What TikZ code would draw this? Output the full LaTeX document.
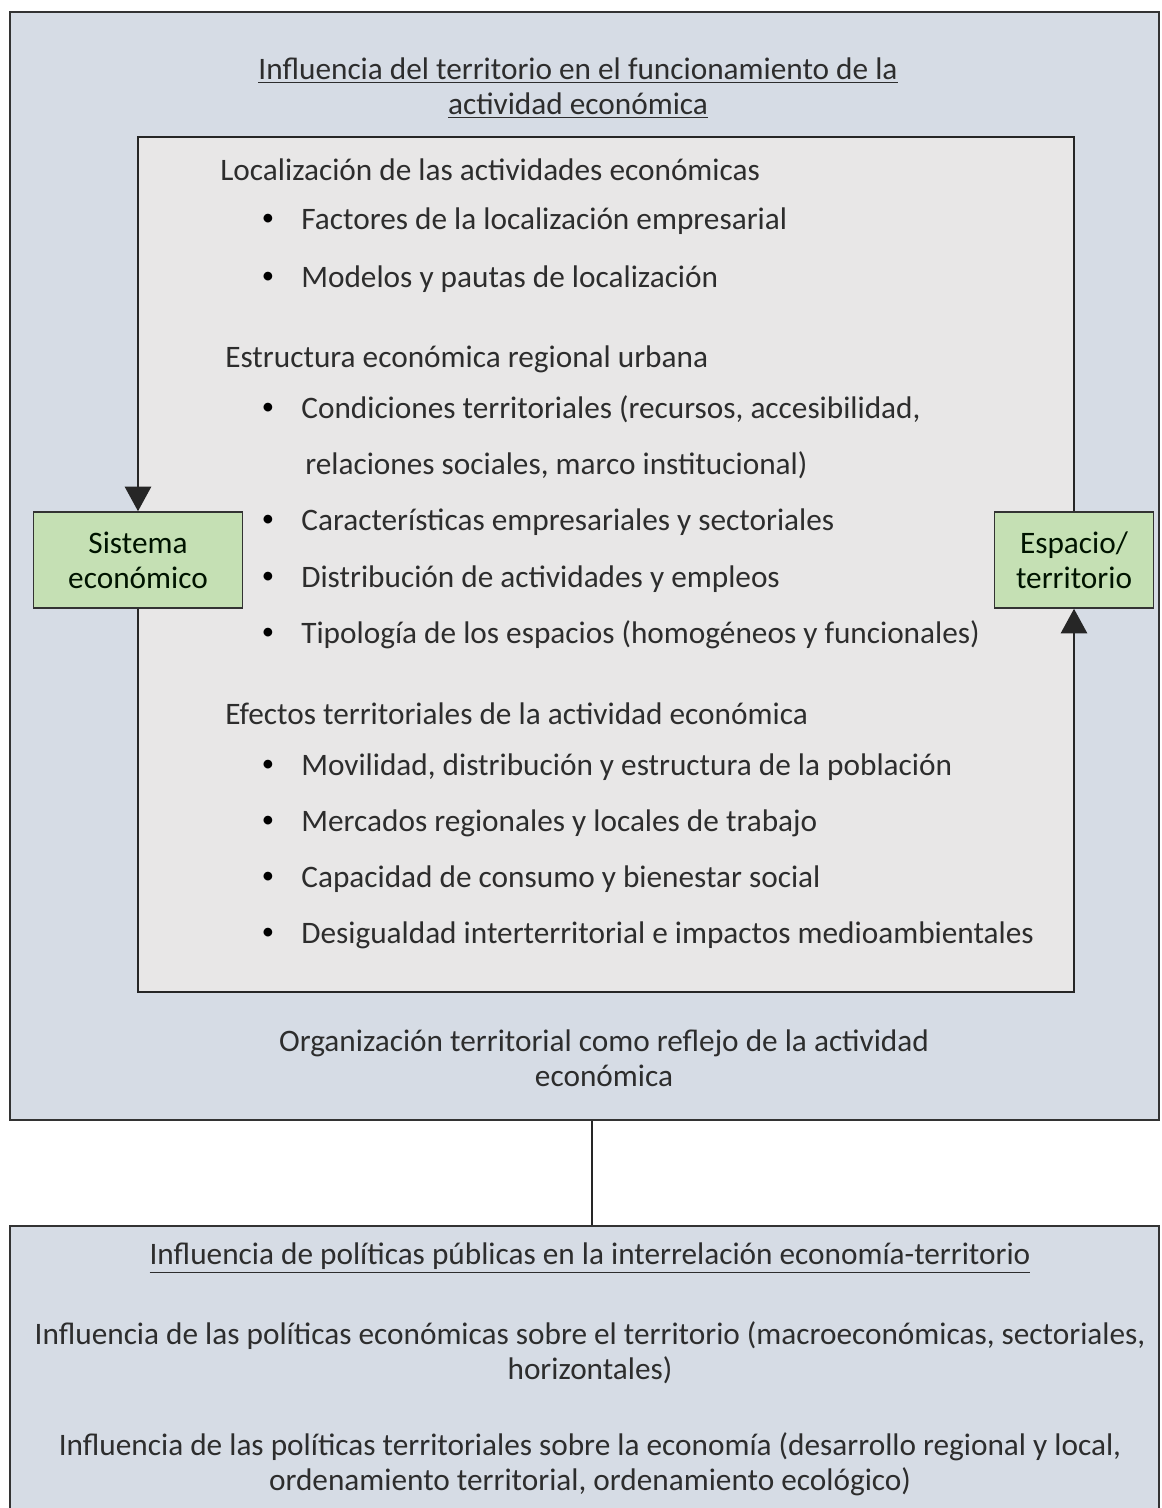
\documentclass[tikz,border=0pt]{standalone}
\usepackage{fontspec}
\setmainfont{Carlito}
\usepackage{xcolor}
\usetikzlibrary{arrows.meta, positioning}
\definecolor{outerblue}{RGB}{214, 220, 229}
\definecolor{innergray}{RGB}{232, 231, 231}
\definecolor{boxgreen}{RGB}{197, 224, 180}
\definecolor{inktext}{RGB}{45, 45, 45}

\begin{document}
\begin{tikzpicture}[x=0.02cm, y=-0.02cm, font=\fontsize{17.8}{20}\selectfont,
    txt/.style={anchor=mid west, inner sep=0pt, text=inktext, yshift=-0.1cm},
    ctr/.style={align=center, inner sep=0pt, text=inktext},
    greenbox/.style={draw=black!80, line width=0.9pt, fill=boxgreen, align=center,
      minimum width=4.18cm, minimum height=1.92cm, text=black!75!green!30!black},
    edge/.style={line width=1pt, black!85}]
  \useasboundingbox (0,0) rectangle (1161,1508);
  % Outer and lower panels
  \node[draw=black!80, line width=1pt, fill=outerblue, minimum width=22.98cm,
        minimum height=22.16cm] (outer) at (584.5,566) {};
  \node[draw=black!80, line width=1pt, fill=outerblue, minimum width=22.98cm,
        minimum height=6.08cm] (lower) at (584.5,1378) {};
  \draw[edge] ([xshift=0.15cm]outer.south) -- ([xshift=0.15cm]lower.north);
  % Inner panel (edges drawn as the two arrows)
  \node[fill=innergray, minimum width=18.72cm, minimum height=17.1cm] (inner) at (606,564.5) {};
  \node[greenbox] (sistema) at (138,560) {Sistema\\econ\'omico};
  \node[greenbox, minimum width=3.18cm] (espacio) at (1074,560) {Espacio/\\territorio};
  \draw[edge, -{Triangle[width=15pt, length=14pt]}]
    (espacio.north) |- (inner.north) -| (sistema.north);
  \draw[edge, -{Triangle[width=15pt, length=14pt]}]
    (sistema.south) |- (inner.south) -| (espacio.south);
  % Titles
  \node[ctr] (toptitle) at (578,88) {\underline{Influencia del territorio en el funcionamiento de la}\\
    \underline{actividad econ\'omica}};
  \node[ctr] (reflejo) at (604,1058) {Organizaci\'on territorial como reflejo de la actividad\\econ\'omica};
  % Headings inside the inner panel
  \node[txt] (loc) at (220,171) {Localizaci\'on de las actividades econ\'omicas};
  \node[txt] (estr) at (225,358) {Estructura econ\'omica regional urbana};
  \node[txt] (efec) at (225,715) {Efectos territoriales de la actividad econ\'omica};
  % Bulleted items
  \foreach \n/\ypos/\txt in {1/220/{Factores de la localizaci\'on empresarial},
      2/278/{Modelos y pautas de localizaci\'on},
      3/409/{Condiciones territoriales (recursos, accesibilidad,},
      4/521/{Caracter\'isticas empresariales y sectoriales},
      5/578/{Distribuci\'on de actividades y empleos},
      6/634/{Tipolog\'ia de los espacios (homog\'eneos y funcionales)},
      7/766/{Movilidad, distribuci\'on y estructura de la poblaci\'on},
      8/822/{Mercados regionales y locales de trabajo},
      9/878/{Capacidad de consumo y bienestar social},
      10/934/{Desigualdad interterritorial e impactos medioambientales}} {
    \node[txt] (item\n) at (301,\ypos) {\txt};
    \node[text=black, inner sep=0pt, font=\fontsize{14}{14}\selectfont] (dot\n) at (268,\ypos) {\textbullet};
  }
  \node[txt] (item3b) at (305,465) {relaciones sociales, marco institucional)};
  % Lower panel texts
  \node[ctr] (lowtitle) at (590,1258) {\underline{Influencia de pol\'iticas p\'ublicas en la interrelaci\'on econom\'ia-territorio}};
  \node[ctr] (polecon) at (590,1353) {Influencia de las pol\'iticas econ\'omicas sobre el territorio (macroecon\'omicas, sectoriales,\\horizontales)};
  \node[ctr] (polterr) at (590,1464) {Influencia de las pol\'iticas territoriales sobre la econom\'ia (desarrollo regional y local,\\ordenamiento territorial, ordenamiento ecol\'ogico)};
\end{tikzpicture}
\end{document}
